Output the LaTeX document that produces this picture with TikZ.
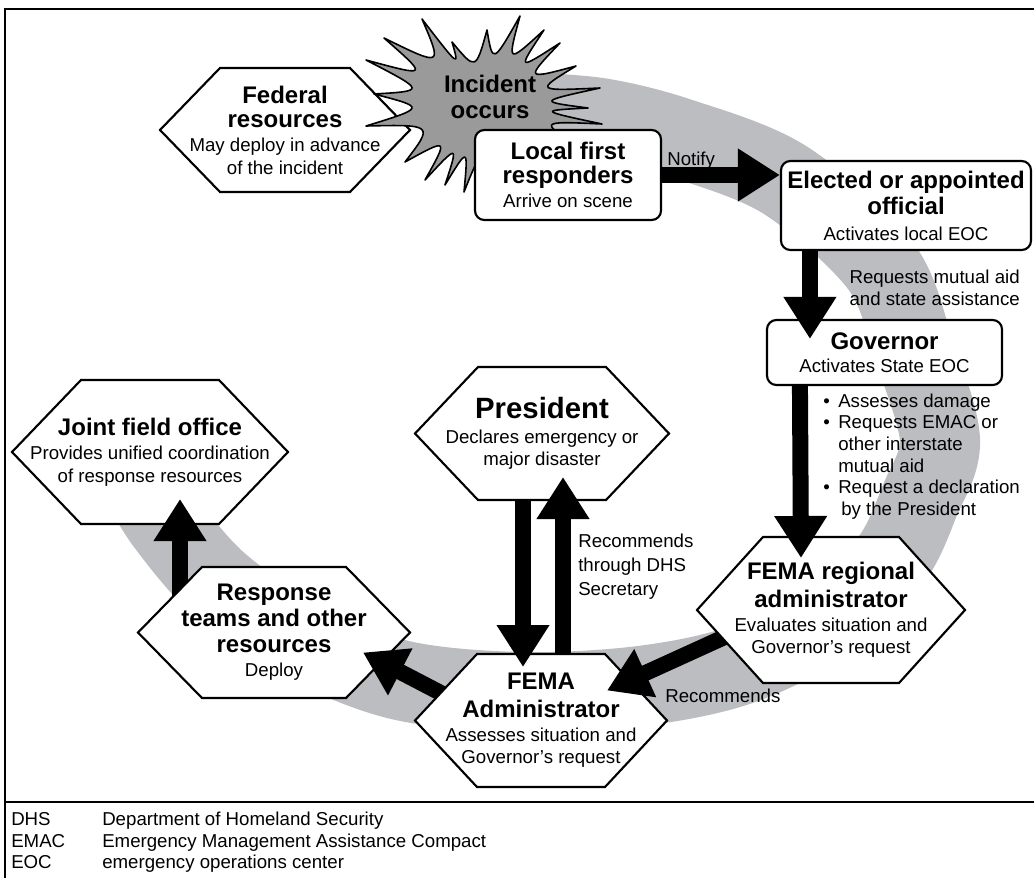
\documentclass[tikz,border=0pt]{standalone}
\usepackage{fontspec}
\setmainfont{Liberation Sans}
\usetikzlibrary{arrows.meta,calc}
\pgfdeclarelayer{bandlayer}
\pgfdeclarelayer{background}
\pgfsetlayers{bandlayer,background,main}
\definecolor{bandgray}{HTML}{BCBDC0}
\definecolor{stargray}{HTML}{9A9A9A}
\newcommand\rg{\fontsize{14}{16.9}\selectfont}
\newcommand\bd[1]{{\fontsize{18}{16.9}\selectfont\bfseries #1}}
\newcommand\bdp[1]{{\fontsize{22}{16.9}\selectfont\bfseries #1}}
\newcommand\bul{\makebox[11.25pt][l]{\textbullet}}
\newcommand\hexdraw[2]{\path[hexline] (#1.west) -- ([xshift=#2]#1.north west) -- ([xshift=-#2]#1.north east) -- (#1.east) -- ([xshift=-#2]#1.south east) -- ([xshift=#2]#1.south west) -- cycle;}
\begin{document}
\begin{tikzpicture}[x=0.75pt,y=-0.75pt,
  hexnode/.style={inner sep=0pt, outer sep=0pt, align=center, font=\rg},
  hexline/.style={draw=black, fill=white, line width=1.6pt, line join=miter},
  rbox/.style={draw=black, fill=white, line width=1.6pt, rounded corners=7pt, inner sep=0pt, align=center, font=\rg},
  bigarrow/.style={line width=12pt, -{Triangle[length=31.5pt,width=37.5pt]}},
  lbl/.style={inner sep=0pt, anchor=base west, font=\rg},
  frameline/.style={line width=2pt},
  starline/.style={draw=black, fill=stargray, line width=1.2pt, line join=round}]
\useasboundingbox (0,0) rectangle (1034,878);

% frame
\draw[frameline] (5,878) -- (5,9) -- (1034,9);
\draw[frameline] (5,802) -- (1034,802);

% nodes
\node[hexnode, minimum width=187.5pt, minimum height=93pt] (fed) at (285,130)
  {\bd{Federal}\\[1.5pt]\bd{resources}\\[1.1pt]May deploy in advance\\of the incident};
\node[inner sep=0pt, align=center, font=\rg] (incident) at (490,97) {\bd{Incident}\\[2.6pt]\bd{occurs}};
\node[rbox, minimum width=139.5pt, minimum height=67.5pt] (local) at (568,175)
  {\bd{Local first}\\[1.5pt]\bd{responders}\\[1.1pt]Arrive on scene};
\node[rbox, minimum width=187.5pt, minimum height=66.75pt] (elected) at (906,205.5)
  {\bd{Elected or appointed}\\[2.6pt]\bd{official}\\[2.6pt]Activates local EOC};
\node[rbox, minimum width=176.25pt, minimum height=48.75pt] (gov) at (884.5,352.5)
  {\bd{Governor}\\[0pt]Activates State EOC};
\node[hexnode, minimum width=207pt, minimum height=108pt] (jfo) at (150,452)
  {\bd{Joint field office}\\[1.1pt]Provides unified coordination\\of response resources};
\node[hexnode, minimum width=190.5pt, minimum height=99.75pt] (pres) at (542,433.5)
  {\bdp{President}\\[1.9pt]Declares emergency or\\major disaster};
\node[hexnode, minimum width=204pt, minimum height=98.25pt] (resp) at (274,632.5)
  {\bd{Response}\\[2.6pt]\bd{teams and other}\\[2.6pt]\bd{resources}\\[1.1pt]Deploy};
\node[hexnode, minimum width=189pt, minimum height=99.75pt] (femaadm) at (541,720.5)
  {\bd{FEMA}\\[3.5pt]\bd{Administrator}\\[1.1pt]Assesses situation and\\Governor’s request};
\node[hexnode, minimum width=201pt, minimum height=109.5pt] (femareg) at (831,610)
  {\bd{FEMA regional}\\[3.5pt]\bd{administrator}\\[1.1pt]Evaluates situation and\\Governor’s request};

% labels
\node[lbl] (notify) at (667,165) {Notify};
\node[lbl, anchor=base east] (req1) at (1020,283) {Requests mutual aid};
\node[lbl, anchor=base east] (req2) at (1020,305) {and state assistance};
\node[lbl] (b1) at (823,407) {\bul Assesses damage};
\node[lbl] (b2) at (823,428.5) {\bul Requests EMAC or};
\node[lbl] (b3) at (838,450) {other interstate};
\node[lbl] (b4) at (838,472) {mutual aid};
\node[lbl] (b5) at (823,493.5) {\bul Request a declaration};
\node[lbl] (b6) at (841,515) {by the President};
\node[lbl] (rec1) at (578,547) {Recommends};
\node[lbl] (rec2) at (578,571) {through DHS};
\node[lbl] (rec3) at (578,595) {Secretary};
\node[lbl] (rec4) at (665,702) {Recommends};

% legend
\node[lbl] (dhs) at (11,825) {DHS};
\node[lbl] (dhsd) at (102,825) {Department of Homeland Security};
\node[lbl] (emac) at (11,847) {EMAC};
\node[lbl] (emacd) at (102,847) {Emergency Management Assistance Compact};
\node[lbl] (eoc) at (11,868) {EOC};
\node[lbl] (eocd) at (102,868) {emergency operations center};

% gray band
\begin{pgfonlayer}{bandlayer}
\draw[line width=60pt, bandgray] plot[smooth, tension=0.55] coordinates
  {(520,112) (600,118) (680,138) (785,180) (880,265) (914,350) (940,440) (920,500) (891,560) (830,620) (740,665) (640,686) (520,692) (400,680) (300,640) (218,583) (166,523) (140,480)};
\end{pgfonlayer}

% shapes and hidden-start arrows
\begin{pgfonlayer}{background}
\hexdraw{fed}{45pt}
\coordinate (S) at (482,105);
\path[starline] (366,60)
  \foreach \xa/\ya/\xb/\yb in {366/60/384/38, 384/38/422/19, 422/19/452/42, 452/42/487/30, 487/30/520/16,
     520/16/544/30, 544/30/560/43, 560/43/576/66, 576/66/600/88, 600/88/588/108, 588/108/602/124,
     602/124/585/150, 585/150/545/178, 545/178/500/186, 500/186/464/192, 464/192/445/185,
     445/185/425/180, 425/180/405/162, 405/162/366/126, 366/126/374/94, 374/94/366/60}
  { .. controls ($(S)!0.5!($(\xa,\ya)!0.5!(\xb,\yb)$)$) .. (\xb,\yb) } -- cycle;
\hexdraw{jfo}{51.75pt}
\draw[bigarrow] ($(resp.west)+(42,-27.5)$) -- ($(jfo.south)+(30,-25)$);
\hexdraw{resp}{48pt}
\draw[bigarrow] ($(femaadm.west)+(45,-17.5)$) -- ($(resp.east)+(-47,20)$);
\hexdraw{femaadm}{46.5pt}
\draw[bigarrow] ($(femareg.west)+(43,20)$) -- ($(femaadm.east)+(-60,-30)$);
\hexdraw{femareg}{49.5pt}
\hexdraw{pres}{47.25pt}
\end{pgfonlayer}

% arrows on top
\draw[bigarrow] (local.east) -- (local.east -| elected.west);
\draw[bigarrow] ($(elected.south west)+(30,0)$) -- ($(gov.north west)+(44,20)$);
\draw[bigarrow] ($(gov.south west)+(34,0)$) -- ($(femareg.north)+(-30,21)$);
\draw[bigarrow] ($(pres.south)+(-19,0)$) -- ($(femaadm.north)+(-18,13)$);
\draw[bigarrow] ($(femaadm.north)+(22,0)$) -- ($(pres.south)+(21,-23)$);
\end{tikzpicture}
\end{document}
